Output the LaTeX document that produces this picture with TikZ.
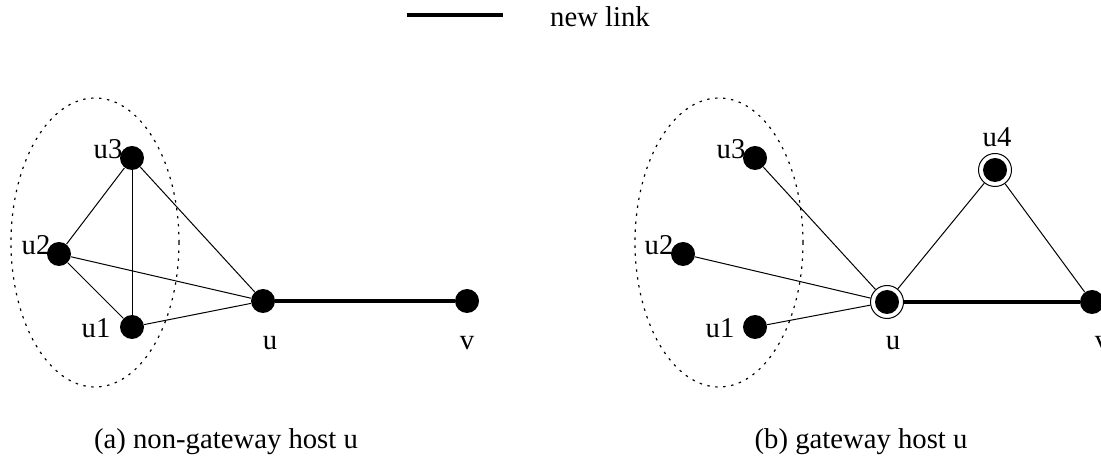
\documentclass[tikz,border=0pt]{standalone}
\usepackage{fontspec}
\setmainfont{Liberation Serif}
\begin{document}
\begin{tikzpicture}[x=0.5pt,y=-0.5pt,
  host/.style={circle,fill=black,inner sep=0pt,minimum size=12pt},
  ring/.style={circle,draw=black,line width=0.5pt,inner sep=0pt,minimum size=16.5pt},
  lab/.style={anchor=base,inner sep=0pt,font=\fontsize{14.35}{17}\selectfont},
  link/.style={line width=0.5pt},
  newlink/.style={line width=2.2pt},
  group/.style={line width=0.6pt,dash pattern=on 1.2pt off 2.8pt}]
\useasboundingbox (0,0) rectangle (1101,469);
% legend
\coordinate (la) at (407,15);
\coordinate (lb) at (503,15);
\draw[newlink] (la) -- (lb);
\node[lab] (legtxt) at (600,27) {new link};
% ---- panel (a)
\draw[group] (95,242.5) ellipse[x radius=84, y radius=144.5];
\node[host] (a3) at (132,158) {};
\node[host] (a2) at (59,254) {};
\node[host] (a1) at (132,327) {};
\node[host] (au) at (263,301) {};
\node[host] (av) at (467,301) {};
\draw[link] (a3) -- (a2);
\draw[link] (a3) -- (a1);
\draw[link] (a3) -- (au);
\draw[link] (a2) -- (a1);
\draw[link] (a2) -- (au);
\draw[link] (a1) -- (au);
\draw[newlink] (au) -- (av);
\node[lab] (la3) at (108,159) {u3};
\node[lab] (la2) at (36,255) {u2};
\node[lab] (la1) at (96,338) {u1};
\node[lab] (lau) at (270,350) {u};
\node[lab] (lav) at (467,350) {v};
\node[lab] (capa) at (226,448) {(a) non-gateway host u};
% ---- panel (b)
\draw[group] (719,242.5) ellipse[x radius=84, y radius=144.5];
\node[host] (b3) at (755,158) {};
\node[host] (b2) at (683,254) {};
\node[host] (b1) at (755,327) {};
\node[host] (bu) at (887,302) {};
\node[ring] (bur) at (887,302) {};
\node[host] (b4) at (995,170) {};
\node[ring] (b4r) at (995,170) {};
\node[host] (bv) at (1092,302) {};
\draw[link] (b3) -- (bur);
\draw[link] (b2) -- (bur);
\draw[link] (b1) -- (bur);
\draw[link] (bur) -- (b4r);
\draw[link] (b4r) -- (bv);
\draw[newlink] (bur) -- (bv);
\node[lab] (lb3) at (731,159) {u3};
\node[lab] (lb2) at (659,255) {u2};
\node[lab] (lb1) at (720,338) {u1};
\node[lab] (lbu) at (893,350) {u};
\node[lab] (lb4) at (997,147) {u4};
\node[lab] (lbv) at (1102,350) {v};
\node[lab] (capb) at (861,448) {(b) gateway host u};
\end{tikzpicture}
\end{document}
